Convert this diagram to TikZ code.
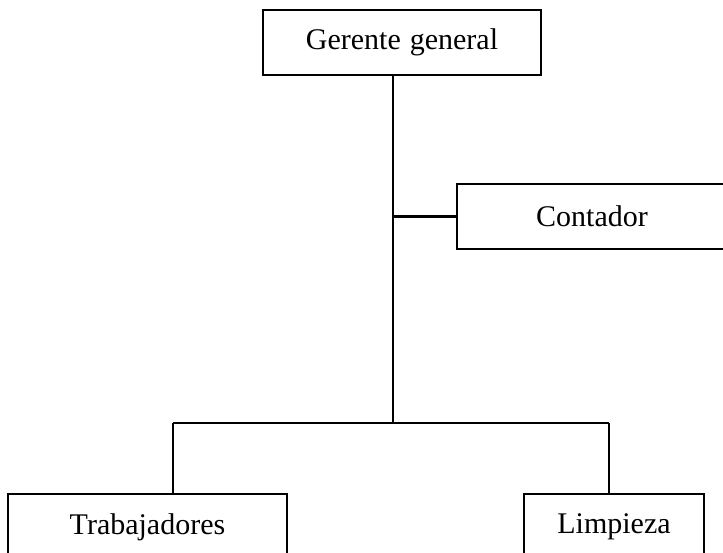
\documentclass[tikz,border=0pt]{standalone}
\usepackage{fontspec}
\setmainfont{Liberation Serif}
\begin{document}
\begin{tikzpicture}[x=1pt,y=-1pt,
  box/.style={draw,line width=2.2pt,inner sep=0pt,font=\fontsize{30}{33}\selectfont},
  conn/.style={line width=2.2pt}]
\useasboundingbox (0,0) rectangle (723,552);
\clip (0,0) rectangle (723,552);
\node[box,minimum width=278pt,minimum height=65pt] (g) at (402,42.5) {Gerente\hspace{9pt}general};
\node[box,minimum width=270pt,minimum height=65pt] (c) at (592,216.5) {Contador};
\node[box,minimum width=279pt,minimum height=66pt] (t) at (147.5,527) {Trabajadores};
\node[box,minimum width=180pt,minimum height=66pt] (l) at (614,527) {Limpieza};
\coordinate (top) at (393,75);
\coordinate (j) at (393,423);
\coordinate (tl) at (173,423);
\coordinate (tr) at (609,423);
\draw[conn] (top) -- (j);
\draw[conn] (c.west) -- (c.west -| top);
\draw[conn] (tl) -- (tr);
\draw[conn] (tl) -- (tl |- t.north);
\draw[conn] (tr) -- (tr |- l.north);
\end{tikzpicture}
\end{document}
